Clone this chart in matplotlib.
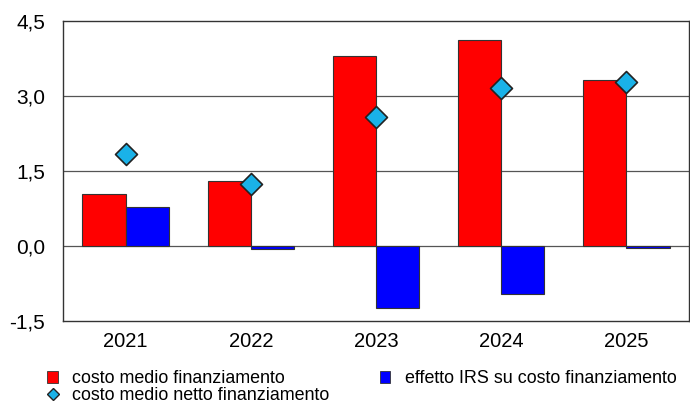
import matplotlib.pyplot as plt
import numpy as np
from matplotlib.lines import Line2D
from matplotlib.patches import Patch

plt.rcParams['font.family'] = ['Liberation Sans', 'DejaVu Sans']

years = ['2021', '2022', '2023', '2024', '2025']
costo_medio = [1.05, 1.30, 3.80, 4.13, 3.32]
effetto_irs = [0.78, -0.06, -1.24, -0.96, -0.03]
costo_netto = [1.84, 1.25, 2.58, 3.17, 3.29]
yticks = [-1.5, 0.0, 1.5, 3.0, 4.5]
ytick_labels = ['-1,5', '0,0', '1,5', '3,0', '4,5']

fig = plt.figure(figsize=(6.9, 4.05), dpi=100)
ax = fig.add_axes([0.0913, 0.2074, 0.9073, 0.7407])

x = np.arange(len(years))
w = 0.345
ax.bar(x - w / 2, costo_medio, w, color='#ff0000', edgecolor='#333333', linewidth=0.8, zorder=2)
ax.bar(x + w / 2, effetto_irs, w, color='#0000ff', edgecolor='#333333', linewidth=0.8, zorder=2)
ax.scatter(x, costo_netto, marker='D', s=125, color='#1ab2e8', edgecolor='#222222', linewidth=1.2, zorder=3)

ax.set_xlim(-0.5, 4.5)
ax.set_ylim(-1.5, 4.5)
ax.set_yticks(yticks)
ax.set_yticklabels(ytick_labels)
ax.set_xticks(x)
ax.set_xticklabels(years)
ax.tick_params(axis='y', length=0, labelsize=15, pad=13)
ax.tick_params(axis='x', length=0, labelsize=14.5, pad=8)
for v in [0.0, 1.5, 3.0]:
    ax.axhline(v, color='#555555', linewidth=0.9, zorder=1)
for s in ax.spines.values():
    s.set_color('#333333')
    s.set_linewidth(1.0)

handles = [
    Patch(facecolor='#ff0000', edgecolor='#333333', linewidth=0.6),
    Line2D([], [], marker='D', linestyle='none', markersize=6, markerfacecolor='#1ab2e8', markeredgecolor='#222222'),
    Patch(facecolor='#0000ff', edgecolor='#333333', linewidth=0.6),
]
labels = ['costo medio finanziamento', 'costo medio netto finanziamento',
          'effetto IRS su costo finanziamento']
fig.legend(handles, labels, ncol=2, loc='lower left', bbox_to_anchor=(0.045, -0.038),
           frameon=False, fontsize=12.9, handlelength=0.6, handleheight=0.6,
           handletextpad=0.8, columnspacing=2.8, labelspacing=0.0)

fig.savefig('out.png', dpi=100)
